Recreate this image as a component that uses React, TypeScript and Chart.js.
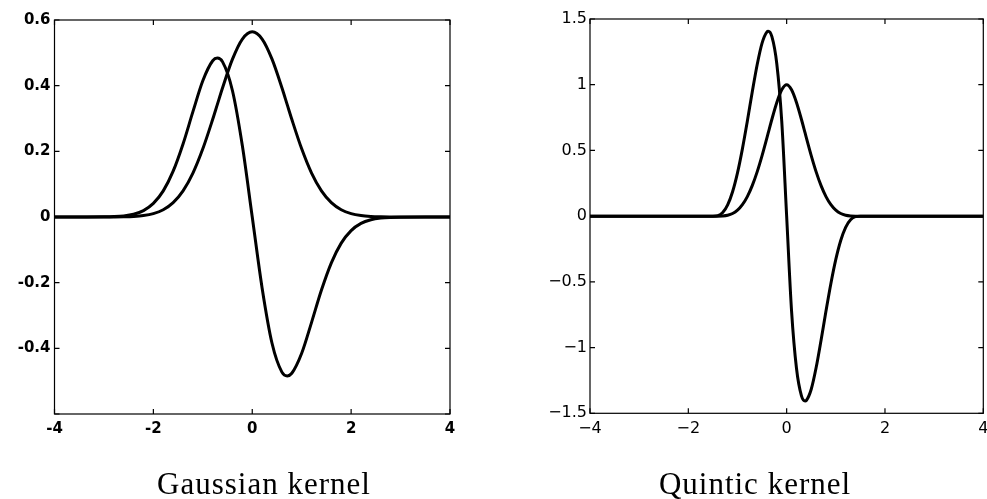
import React, { useEffect, useRef } from "react";
import { Chart, registerables } from "chart.js";

Chart.register(...registerables);

// ---------- Data ----------
const gaussX = [-4, -3.5, -3, -2.8, -2.6, -2.4, -2.2, -2, -1.8, -1.6, -1.4, -1.2, -1, -0.8, -0.7071, -0.6, -0.4, -0.2, 0, 0.2, 0.4, 0.6, 0.7071, 0.8, 1, 1.2, 1.4, 1.6, 1.8, 2, 2.2, 2.4, 2.6, 2.8, 3, 3.5, 4];
const gaussKernel = [0, 0, 0.00007, 0.00022, 0.00065, 0.00178, 0.00446, 0.01034, 0.02209, 0.04361, 0.07947, 0.13367, 0.20756, 0.29749, 0.3422, 0.39363, 0.48077, 0.54207, 0.56419, 0.54207, 0.48077, 0.39363, 0.3422, 0.29749, 0.20756, 0.13367, 0.07947, 0.04361, 0.02209, 0.01034, 0.00446, 0.00178, 0.00065, 0.00022, 0.00007, 0, 0];
const gaussDeriv = [0, 0, 0.00042, 0.00124, 0.0034, 0.00853, 0.0196, 0.0414, 0.0795, 0.1395, 0.2225, 0.3208, 0.4151, 0.476, 0.4839, 0.4724, 0.3846, 0.2168, 0, -0.2168, -0.3846, -0.4724, -0.4839, -0.476, -0.4151, -0.3208, -0.2225, -0.1395, -0.0795, -0.0414, -0.0196, -0.00853, -0.0034, -0.00124, -0.00042, 0, 0];

const quinX = [-4, -1.5, -1.4, -1.3, -1.2, -1.1, -1.0, -0.9, -0.8, -0.7, -0.6, -0.5, -0.4, -0.375, -0.3, -0.2, -0.1, 0, 0.1, 0.2, 0.3, 0.375, 0.4, 0.5, 0.6, 0.7, 0.8, 0.9, 1.0, 1.1, 1.2, 1.3, 1.4, 1.5, 4];
const quinKernel = [0, 0, 0.0001, 0.0014, 0.0067, 0.0199, 0.0453, 0.087, 0.1486, 0.2319, 0.337, 0.4609, 0.5977, 0.6328, 0.7373, 0.8651, 0.9612, 1, 0.9612, 0.8651, 0.7373, 0.6328, 0.5977, 0.4609, 0.337, 0.2319, 0.1486, 0.087, 0.0453, 0.0199, 0.0067, 0.0014, 0.0001, 0, 0];
const quinDeriv = [0, 0, 0.0037, 0.0274, 0.0853, 0.1854, 0.3292, 0.512, 0.7225, 0.9439, 1.152, 1.3169, 1.4023, 1.4063, 1.3653, 1.1574, 0.7226, 0, -0.7226, -1.1574, -1.3653, -1.4063, -1.4023, -1.3169, -1.152, -0.9439, -0.7225, -0.512, -0.3292, -0.1854, -0.0853, -0.0274, -0.0037, 0, 0];

const xTicks = [-4, -2, 0, 2, 4];
const gaussYTicks = ["0.6", "0.4", "0.2", "0", "-0.2", "-0.4", ""];
const quinYTicks = ["1.5", "1", "0.5", "0", "\u22120.5", "\u22121", "\u22121.5"];
const gaussXLabels = ["-4", "-2", "0", "2", "4"];
const quinXLabels = ["\u22124", "\u22122", "0", "2", "4"];

const titles = ["Gaussian kernel", "Quintic kernel"];

// ---------- Box with inward ticks ----------
const boxPlugin = {
  id: "matlabBox",
  afterDraw(chart: any) {
    const { ctx, chartArea } = chart;
    const { left, right, top, bottom } = chartArea;
    const xs = chart.scales.x;
    const ys = chart.scales.y;
    const L = 5;
    ctx.save();
    ctx.strokeStyle = "#000";
    ctx.lineWidth = 1.2;
    ctx.strokeRect(left, top, right - left, bottom - top);
    ctx.beginPath();
    xs.ticks.forEach((t: any) => {
      const p = xs.getPixelForValue(t.value);
      ctx.moveTo(p, bottom);
      ctx.lineTo(p, bottom - L);
      ctx.moveTo(p, top);
      ctx.lineTo(p, top + L);
    });
    ys.ticks.forEach((t: any) => {
      const p = ys.getPixelForValue(t.value);
      ctx.moveTo(left, p);
      ctx.lineTo(left + L, p);
      ctx.moveTo(right, p);
      ctx.lineTo(right - L, p);
    });
    ctx.stroke();
    ctx.restore();
  },
};

type Spec = {
  xs: number[];
  a: number[];
  b: number[];
  yMin: number;
  yMax: number;
  yStep: number;
  yLabels: string[];
  xLabels: string[];
  font: { family: string; size: number; weight: "bold" | "normal" };
  padding: { left: number; right: number; top: number; bottom: number };
  yWidth: number;
  yPad: number;
};

function KernelChart({ spec, width, height }: { spec: Spec; width: number; height: number }) {
  const ref = useRef<HTMLCanvasElement | null>(null);
  useEffect(() => {
    if (!ref.current) return;
    const font = spec.font;
    const line = {
      borderColor: "#000",
      borderWidth: 3,
      pointRadius: 0,
      fill: false,
      cubicInterpolationMode: "monotone" as const,
    };
    const chart = new Chart(ref.current, {
      type: "line",
      data: {
        datasets: [
          { ...line, data: spec.xs.map((x, i) => ({ x, y: spec.a[i] })) },
          { ...line, data: spec.xs.map((x, i) => ({ x, y: spec.b[i] })) },
        ],
      },
      options: {
        animation: false,
        responsive: false,
        maintainAspectRatio: false,
        events: [],
        layout: { padding: spec.padding },
        plugins: { legend: { display: false }, tooltip: { enabled: false }, title: { display: false } },
        scales: {
          x: {
            type: "linear",
            min: -4,
            max: 4,
            afterBuildTicks: (s: any) => {
              s.ticks = xTicks.map((v) => ({ value: v }));
            },
            ticks: {
              autoSkip: false,
              maxRotation: 0,
              padding: 6,
              color: "#000",
              font,
              callback: (v: any) => {
                const i = xTicks.indexOf(Number(v));
                return i >= 0 ? spec.xLabels[i] : "";
              },
            },
            grid: { display: false, drawTicks: false },
            border: { display: false },
            afterFit: (s: any) => {
              s.height = 30;
            },
          },
          y: {
            type: "linear",
            min: spec.yMin,
            max: spec.yMax,
            ticks: {
              stepSize: spec.yStep,
              autoSkip: false,
              padding: spec.yPad,
              color: "#000",
              font,
              callback: (v: any) => {
                const idx = Math.round((spec.yMax - Number(v)) / spec.yStep);
                return spec.yLabels[idx] ?? "";
              },
            },
            grid: { display: false, drawTicks: false },
            border: { display: false },
            afterFit: (s: any) => {
              s.width = spec.yWidth;
            },
          },
        },
      },
      plugins: [boxPlugin],
    });
    return () => chart.destroy();
  }, [spec]);
  return <canvas ref={ref} width={width} height={height} style={{ width, height, display: "block" }} />;
}

const gaussSpec: Spec = {
  xs: gaussX,
  a: gaussKernel,
  b: gaussDeriv,
  yMin: -0.6,
  yMax: 0.6,
  yStep: 0.2,
  yLabels: gaussYTicks,
  xLabels: gaussXLabels,
  font: { family: "'DejaVu Sans', sans-serif", size: 15, weight: "bold" },
  padding: { left: 0, right: 20, top: 20, bottom: 55 },
  yWidth: 54.5,
  yPad: 4,
};

const quinSpec: Spec = {
  xs: quinX,
  a: quinKernel,
  b: quinDeriv,
  yMin: -1.5,
  yMax: 1.5,
  yStep: 0.5,
  yLabels: quinYTicks,
  xLabels: quinXLabels,
  font: { family: "'DejaVu Sans', sans-serif", size: 16, weight: "normal" },
  padding: { left: 0, right: 16.7, top: 19, bottom: 55.7 },
  yWidth: 60,
  yPad: 3,
};

const titleStyle: React.CSSProperties = {
  position: "absolute",
  top: 468,
  width: 400,
  textAlign: "center",
  fontFamily: "'Liberation Serif', 'Times New Roman', serif",
  fontSize: 31,
  lineHeight: "31px",
  letterSpacing: "1px",
  color: "#000",
  whiteSpace: "nowrap",
};

export default function App() {
  return (
    <div style={{ position: "fixed", left: 0, top: 0, width: 987, height: 499, background: "#fff", overflow: "hidden" }}>
      <div style={{ position: "absolute", left: 0, top: 0 }}>
        <KernelChart spec={gaussSpec} width={470} height={499} />
      </div>
      <div style={{ position: "absolute", left: 530, top: 0 }}>
        <KernelChart spec={quinSpec} width={470} height={499} />
      </div>
      <div style={{ ...titleStyle, left: 64 }}>{titles[0]}</div>
      <div style={{ ...titleStyle, left: 555 }}>{titles[1]}</div>
    </div>
  );
}
